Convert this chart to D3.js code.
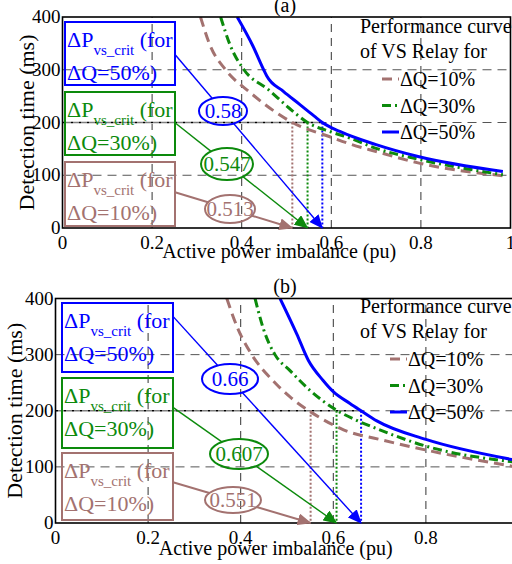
<!DOCTYPE html>
<html>
<head>
<meta charset="utf-8">
<script src="https://cdn.jsdelivr.net/npm/d3@7"></script>
<style>
  body { margin: 0; background: #fff; }
  svg { display: block; font-family: "Liberation Serif", "Times New Roman", serif; }
</style>
</head>
<body>
<div id="chart"></div>
<script>
// Data
const xTicks = [0, 0.2, 0.4, 0.6, 0.8, 1];
const yTicks = [0, 100, 200, 300, 400];
const seriesNames = ['ΔQ=10%', 'ΔQ=30%', 'ΔQ=50%'];
const boxNames = ['ΔQ=10%)', 'ΔQ=30%)', 'ΔQ=50%)'];

// panel (a): critical power imbalance and curves [pu, ms]
const critA = [0.513, 0.547, 0.58];
const curveA10 = [[0.308, 400], [0.33, 345], [0.364, 300], [0.42, 256], [0.475, 220], [0.513, 200], [0.6, 172], [0.643, 159], [0.70, 145], [0.796, 123], [0.983, 99]];
const curveA30 = [[0.353, 400], [0.375, 345], [0.405, 300], [0.46, 262], [0.505, 228], [0.547, 200], [0.6, 182], [0.643, 170], [0.70, 151], [0.796, 130], [0.983, 101]];
const curveA50 = [[0.39, 400], [0.425, 345], [0.449, 300], [0.456, 288], [0.493, 259], [0.53, 234], [0.562, 212], [0.58, 200], [0.619, 183], [0.70, 158], [0.796, 135], [0.983, 107]];

// panel (b)
const critB = [0.551, 0.607, 0.66];
const curveB10 = [[0.37, 400], [0.394, 346], [0.42, 305], [0.474, 250], [0.506, 225], [0.551, 198], [0.599, 175], [0.622, 166], [0.70, 149], [0.8, 130], [0.987, 101]];
const curveB30 = [[0.431, 400], [0.449, 346], [0.474, 300], [0.506, 272], [0.55, 236], [0.607, 201], [0.65, 183], [0.694, 168], [0.8, 137], [0.987, 109]];
const curveB50 = [[0.485, 400], [0.521, 337], [0.546, 290], [0.578, 254], [0.60, 234], [0.636, 213], [0.66, 200], [0.694, 182], [0.8, 149], [0.987, 113]];

// Style
const colors = ['#a37270', '#0c8a0c', '#0000ff'];
const dashes = ['10,6', '9,4,2,4', null];
const W = 512, H = 564;

const panels = [
    {
        title: '(a)', crit: critA, curves: [curveA10, curveA30, curveA50],
        left: 62.5, unit: 448, top: 17, bottom: 228,
        titleY: 12, xLabelY: 258, yLabelX: 34,
        boxLeft: 65, boxRight: 175,
        boxes: [[162, 226], [92, 155], [22, 85]],
        ovals: [[230, 209, 25, 14], [227, 164, 26, 16], [223, 111, 24, 14]],
        legendX: 360, legendY: 33, sampleX: 382, rowY: 79
    },
    {
        title: '(b)', crit: critB, curves: [curveB10, curveB30, curveB50],
        left: 55.5, unit: 463, top: 298.5, bottom: 523,
        titleY: 293, xLabelY: 555, yLabelX: 22,
        boxLeft: 62, boxRight: 173,
        boxes: [[453, 520], [378, 448], [303, 372]],
        ovals: [[233, 500, 28, 13], [239, 454, 29, 15], [230, 379, 28, 15]],
        legendX: 360, legendY: 313, sampleX: 390, rowY: 359
    }
];

const svg = d3.select('#chart')
    .append('svg')
    .attr('width', W)
    .attr('height', H);

// arrow markers
const defs = svg.append('defs');
colors.forEach((c, i) => {
    defs.append('marker')
        .attr('id', 'arrow' + i)
        .attr('markerUnits', 'userSpaceOnUse')
        .attr('markerWidth', 14)
        .attr('markerHeight', 12)
        .attr('refX', 13)
        .attr('refY', 6)
        .attr('orient', 'auto')
        .append('path')
        .attr('d', 'M0,0 L14,6 L0,12 Z')
        .attr('fill', c);
});

panels.forEach((p, pi) => drawPanel(p, pi));

function drawPanel(p, pi) {
    const x = d3.scaleLinear().domain([0, 1]).range([p.left, p.left + p.unit]);
    const y = d3.scaleLinear().domain([0, 400]).range([p.bottom, p.top]);
    const g = svg.append('g');

    const clipId = 'clip' + pi;
    defs.append('clipPath').attr('id', clipId)
        .append('rect')
        .attr('x', x(0)).attr('y', y(400))
        .attr('width', x(1) - x(0)).attr('height', y(0) - y(400));

    // grid
    g.selectAll('.vgrid')
        .data(xTicks.slice(1, -1))
        .join('line')
        .attr('x1', d => x(d)).attr('x2', d => x(d))
        .attr('y1', y(0)).attr('y2', y(400))
        .attr('stroke', '#333').attr('stroke-width', 1)
        .attr('stroke-dasharray', '8,6');
    g.selectAll('.hgrid')
        .data(yTicks.slice(1, -1))
        .join('line')
        .attr('x1', x(0)).attr('x2', x(1))
        .attr('y1', d => y(d)).attr('y2', d => y(d))
        .attr('stroke', '#555').attr('stroke-width', 1)
        .attr('stroke-dasharray', '9,6');

    // 200 ms threshold line
    g.append('rect')
        .attr('x', x(0) + 1).attr('y', y(200) - 1.5)
        .attr('width', x(d3.max(p.crit)) - x(0)).attr('height', 3)
        .attr('fill', '#fff');
    g.append('line')
        .attr('x1', x(0)).attr('x2', x(d3.max(p.crit)))
        .attr('y1', y(200)).attr('y2', y(200))
        .attr('stroke', '#000').attr('stroke-width', 1.3)
        .attr('stroke-dasharray', '3,1,1,1,1,1');

    // critical value droplines
    g.selectAll('.drop')
        .data(p.crit)
        .join('line')
        .attr('x1', d => x(d)).attr('x2', d => x(d))
        .attr('y1', y(200)).attr('y2', y(0))
        .attr('stroke', (d, i) => colors[i]).attr('stroke-width', 2)
        .attr('stroke-dasharray', '2,2');

    // curves
    const line = d3.line()
        .x(d => x(d[0]))
        .y(d => y(d[1]))
        .curve(d3.curveMonotoneX);
    const cg = g.append('g').attr('clip-path', `url(#${clipId})`);
    cg.selectAll('.curve')
        .data(p.curves)
        .join('path')
        .attr('d', line)
        .attr('fill', 'none')
        .attr('stroke', (d, i) => colors[i])
        .attr('stroke-width', 3)
        .attr('stroke-dasharray', (d, i) => dashes[i]);

    // frame
    g.append('rect')
        .attr('x', x(0)).attr('y', y(400))
        .attr('width', x(1) - x(0)).attr('height', y(0) - y(400))
        .attr('fill', 'none').attr('stroke', '#000').attr('stroke-width', 1.6);

    // tick labels
    g.selectAll('.xt')
        .data(xTicks)
        .join('text')
        .attr('x', d => x(d)).attr('y', y(0) + 21)
        .attr('text-anchor', 'middle')
        .attr('font-size', 19)
        .text(d => d === 0 || d === 1 ? d : d.toFixed(1));
    g.selectAll('.yt')
        .data(yTicks)
        .join('text')
        .attr('x', x(0) - 2).attr('y', d => y(d) + 6)
        .attr('text-anchor', 'end')
        .attr('font-size', 19)
        .text(d => d);

    // axis labels and title
    g.append('text')
        .attr('x', (x(0) + 512) / 2 - 8).attr('y', p.xLabelY)
        .attr('text-anchor', 'middle').attr('font-size', 20)
        .text('Active power imbalance (pu)');
    g.append('text')
        .attr('transform', `translate(${p.yLabelX},${(y(0) + y(400)) / 2}) rotate(-90)`)
        .attr('text-anchor', 'middle').attr('font-size', 22)
        .text('Detection time (ms)');
    g.append('text')
        .attr('x', 285).attr('y', p.titleY)
        .attr('text-anchor', 'middle').attr('font-size', 20)
        .text(p.title);

    // annotation boxes, ovals and arrows
    p.crit.forEach((c, i) => {
        const col = colors[i];
        const [bt, bb] = p.boxes[i];
        g.append('rect')
            .attr('x', p.boxLeft).attr('y', bt)
            .attr('width', p.boxRight - p.boxLeft).attr('height', bb - bt)
            .attr('fill', 'none').attr('stroke', col).attr('stroke-width', 2);
        const t1 = g.append('text')
            .attr('x', p.boxLeft + 2).attr('y', bt + 25)
            .attr('font-size', 22).attr('fill', col);
        t1.append('tspan').text('ΔP');
        t1.append('tspan').attr('dy', 8).attr('font-size', 15).text('vs_crit');
        t1.append('tspan').attr('dy', -8).text(' (for');
        g.append('text')
            .attr('x', p.boxLeft + 2).attr('y', bt + 58)
            .attr('font-size', 22).attr('fill', col)
            .text(boxNames[i]);

        const [cx, cy, rx, ry] = p.ovals[i];
        const tipX = x(c), tipY = y(0);
        let dx = tipX - cx, dy = tipY - cy;
        const len = Math.hypot(dx, dy);
        dx /= len; dy /= len;
        const k = 1 / Math.sqrt((dx / rx) ** 2 + (dy / ry) ** 2);
        const sx = p.boxRight;
        const sy = cy + (sx - cx) * (tipY - cy) / (tipX - cx);
        g.append('line')
            .attr('x1', sx).attr('y1', sy)
            .attr('x2', cx - k * dx).attr('y2', cy - k * dy)
            .attr('stroke', col).attr('stroke-width', i === 0 ? 2 : 1.4);
        g.append('line')
            .attr('x1', cx + k * dx).attr('y1', cy + k * dy)
            .attr('x2', tipX).attr('y2', tipY)
            .attr('stroke', col).attr('stroke-width', i === 0 ? 2 : 1.4)
            .attr('marker-end', `url(#arrow${i})`);
        g.append('ellipse')
            .attr('cx', cx).attr('cy', cy).attr('rx', rx).attr('ry', ry)
            .attr('fill', 'none').attr('stroke', col).attr('stroke-width', 2);
        g.append('text')
            .attr('x', cx).attr('y', cy + 7)
            .attr('text-anchor', 'middle').attr('font-size', 21).attr('fill', col)
            .text(c);
    });

    // legend
    g.append('text')
        .attr('x', p.legendX).attr('y', p.legendY)
        .attr('font-size', 20).text('Performance curve');
    g.append('text')
        .attr('x', p.legendX).attr('y', p.legendY + 25)
        .attr('font-size', 20).text('of VS Relay for');
    seriesNames.forEach((name, i) => {
        const ry = p.rowY + i * 26.5;
        g.append('line')
            .attr('x1', p.sampleX).attr('x2', p.sampleX + 17)
            .attr('y1', ry).attr('y2', ry)
            .attr('stroke', colors[i]).attr('stroke-width', 3)
            .attr('stroke-dasharray', dashes[i]);
        g.append('text')
            .attr('x', p.sampleX + 18).attr('y', ry + 7)
            .attr('font-size', 20).text(name);
    });
}
</script>
</body>
</html>
